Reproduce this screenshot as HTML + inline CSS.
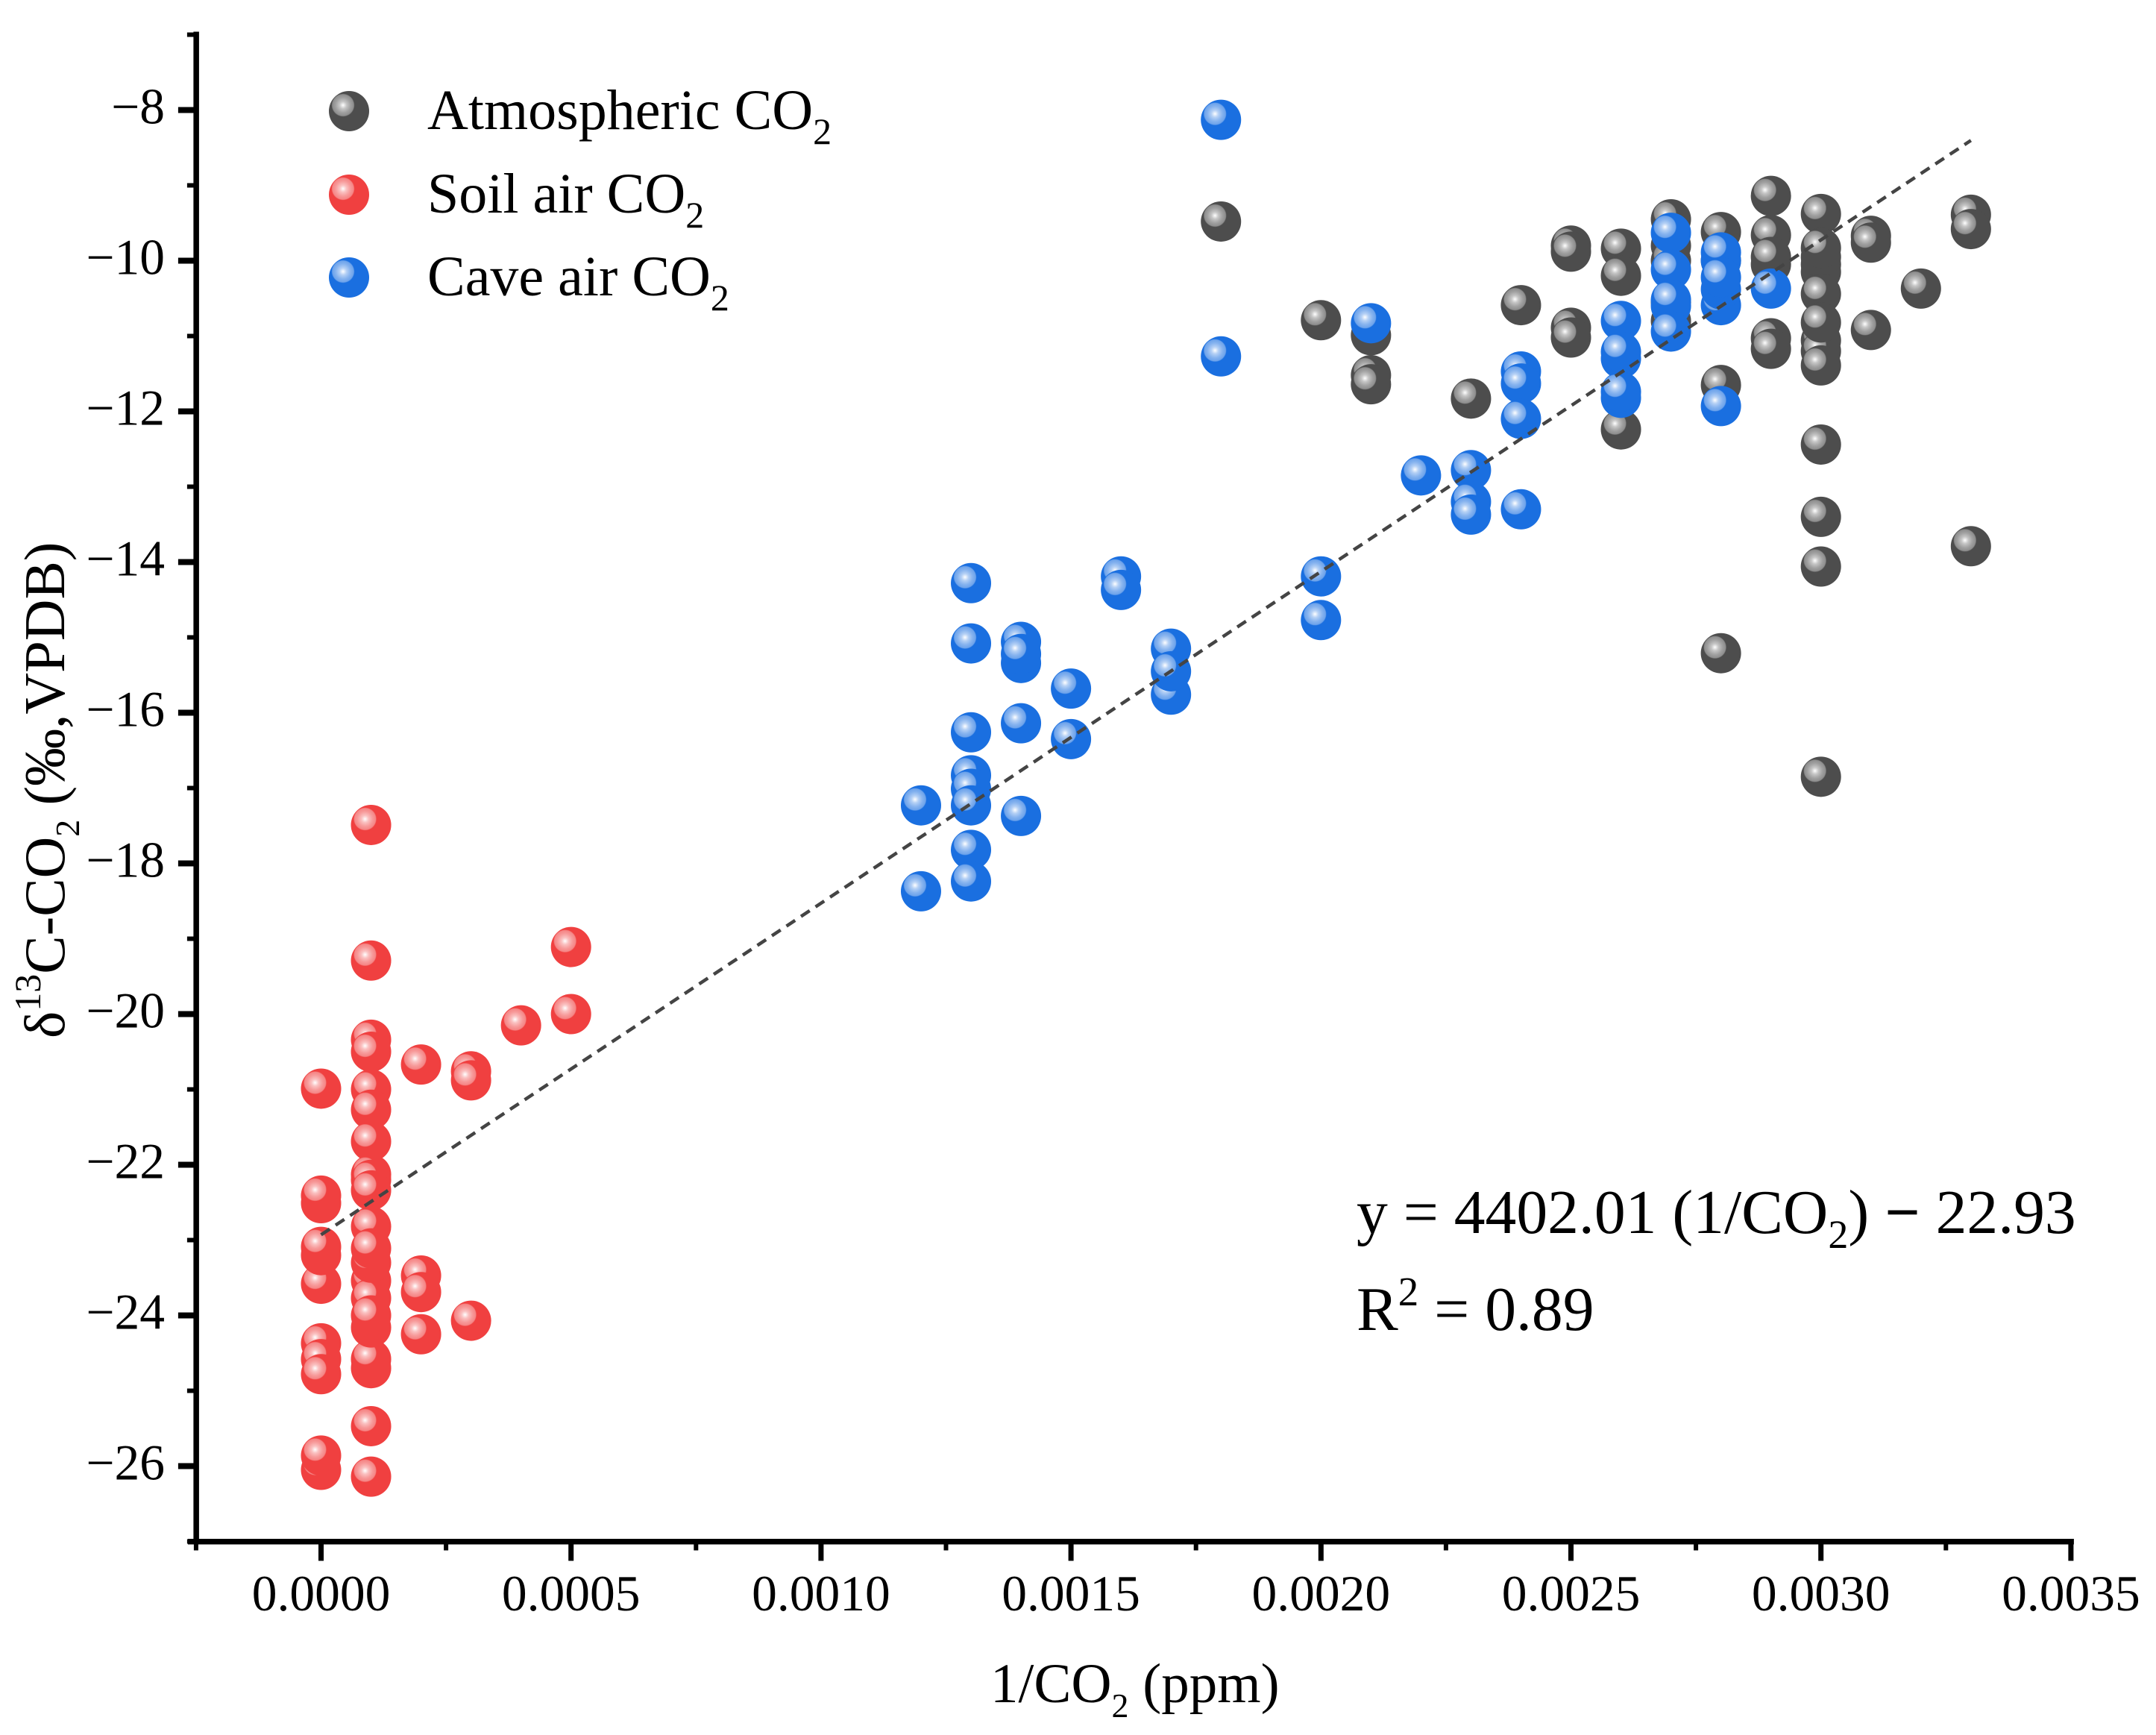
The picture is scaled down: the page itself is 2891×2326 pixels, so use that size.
<!DOCTYPE html>
<html lang="en">
<head>
<meta charset="utf-8">
<title>δ13C-CO2 versus 1/CO2</title>
<style>
html,body{margin:0;padding:0;background:#fff;}
svg{display:block;}
text{font-family:"Liberation Serif","Noto Serif CJK SC",serif;fill:#000;}
</style>
</head>
<body>
<svg id="chart" xmlns="http://www.w3.org/2000/svg" width="2891" height="2326" viewBox="0 0 2891 2326">
  <defs>
    <radialGradient id="shine" cx="50%" cy="50%" r="50%">
      <stop offset="0" stop-color="#fff" stop-opacity="1"/>
      <stop offset="0.3" stop-color="#fff" stop-opacity="0.68"/>
      <stop offset="0.65" stop-color="#fff" stop-opacity="0.47"/>
      <stop offset="0.92" stop-color="#fff" stop-opacity="0.36"/>
      <stop offset="1" stop-color="#fff" stop-opacity="0"/>
    </radialGradient>
  </defs>
  <rect x="0" y="0" width="2891" height="2326" fill="#fff"/>
  <g id="axes"></g>
  <g id="atmospheric"></g>
  <g id="soil"></g>
  <g id="cave"></g>
  <line id="fit" stroke="#444" stroke-width="4.5" stroke-dasharray="14 9.4" fill="none"/>
  <g id="legend">
    <text x="573" y="173" font-size="76">Atmospheric CO<tspan font-size="50" dy="20">2</tspan></text>
    <text x="573" y="285" font-size="76">Soil air CO<tspan font-size="50" dy="20">2</tspan></text>
    <text x="573" y="396" font-size="76">Cave air CO<tspan font-size="50" dy="20">2</tspan></text>
  </g>
  <text x="1819" y="1653" font-size="83.6">y = 4402.01 (1/CO<tspan font-size="54" dy="20">2</tspan><tspan dy="-20">) </tspan><tspan font-weight="bold">−</tspan> 22.93</text>
  <text x="1819" y="1783" font-size="83.6">R<tspan font-size="55" dy="-33">2</tspan><tspan dy="33"> = 0.89</tspan></text>
  <text x="1328" y="2282" font-size="75">1/CO<tspan font-size="46" dy="20">2</tspan><tspan dy="-20"> (ppm)</tspan></text>
  <text transform="translate(86 1392) rotate(-90)" x="0" y="0" font-size="77">δ<tspan font-size="50" dy="-32">13</tspan><tspan dy="32">C-CO</tspan><tspan font-size="46" dy="20">2</tspan><tspan dy="-20"> (‰,VPDB)</tspan></text>
</svg>
<script>
// Axis labels and ticks
const xTickValues = [0, 0.0005, 0.001, 0.0015, 0.002, 0.0025, 0.003, 0.0035];
const xTickLabels = ["0.0000", "0.0005", "0.0010", "0.0015", "0.0020", "0.0025", "0.0030", "0.0035"];
const xMinorTickValues = [-0.00025, 0.00025, 0.00075, 0.00125, 0.00175, 0.00225, 0.00275, 0.00325];
const yTickValues = [-8, -10, -12, -14, -16, -18, -20, -22, -24, -26];
const yTickLabels = ["−8", "−10", "−12", "−14", "−16", "−18", "−20", "−22", "−24", "−26"];
const yMinorTickValues = [-7, -9, -11, -13, -15, -17, -19, -21, -23, -25, -27];

// Atmospheric CO2 series
const atmosphericX = [0.0018, 0.0020,
  0.0021, 0.0021, 0.0021,
  0.0023, 0.0024,
  0.0025, 0.0025, 0.0025, 0.0025,
  0.0026, 0.0026, 0.0026,
  0.0027, 0.0027, 0.0027, 0.0027, 0.0027,
  0.0028, 0.0028, 0.0028, 0.0028,
  0.0029, 0.0029, 0.0029, 0.0029, 0.0029, 0.0029,
  0.0030, 0.0030, 0.0030, 0.0030, 0.0030, 0.0030, 0.0030, 0.0030, 0.0030, 0.0030, 0.0030, 0.0030, 0.0030, 0.0030,
  0.0031, 0.0031, 0.0031,
  0.0032,
  0.0033, 0.0033, 0.0033];
const atmosphericY = [-9.48, -10.79,
  -10.99, -11.52, -11.64,
  -11.83, -10.59,
  -9.80, -9.88, -10.89, -11.02,
  -9.84, -10.20, -12.24,
  -9.45, -9.80, -10.00, -10.55, -10.80,
  -9.62, -10.00, -11.65, -15.21,
  -9.14, -9.66, -10.05, -9.95, -11.03, -11.17,
  -9.38, -10.15, -10.05, -9.95, -9.83, -10.44, -11.06, -11.20, -10.82, -11.39, -12.44, -13.40, -14.06, -16.85,
  -9.67, -9.76, -10.92,
  -10.37,
  -9.39, -9.58, -13.79];

// Soil air CO2 series
const soilX = [0, 0, 0, 0, 0, 0, 0, 0, 0, 0, 0,
  0.0001, 0.0001, 0.0001, 0.0001, 0.0001, 0.0001, 0.0001, 0.0001, 0.0001, 0.0001,
  0.0001, 0.0001, 0.0001, 0.0001, 0.0001, 0.0001, 0.0001, 0.0001, 0.0001, 0.0001, 0.0001,
  0.0002, 0.0002, 0.0002, 0.0002,
  0.0003, 0.0003, 0.0003,
  0.0004,
  0.0005, 0.0005];
const soilY = [-20.99, -22.51, -22.41, -23.58, -23.20, -23.09, -24.37, -24.58, -24.78, -26.05, -25.86,
  -17.49, -19.29, -20.34, -20.50, -21.00, -21.27, -21.69, -22.13, -22.20, -22.34,
  -25.47, -26.14, -24.70, -24.58, -24.16, -23.54, -23.77, -24.00, -23.30, -22.82, -23.11,
  -20.67, -23.47, -23.69, -24.25,
  -20.76, -20.88, -24.07,
  -20.15,
  -19.11, -20.00];

// Cave air CO2 series
const caveX = [0.0012, 0.0012,
  0.0013, 0.0013, 0.0013, 0.0013, 0.0013, 0.0013, 0.0013, 0.0013,
  0.0014, 0.0014, 0.0014, 0.0014, 0.0014,
  0.0015, 0.0015,
  0.0016, 0.0016,
  0.0017, 0.0017, 0.0017,
  0.0018, 0.0018,
  0.0020, 0.0020,
  0.0021, 0.0022,
  0.0023, 0.0023, 0.0023,
  0.0024, 0.0024, 0.0024, 0.0024,
  0.0026, 0.0026, 0.0026, 0.0026, 0.0026,
  0.0027, 0.0027, 0.0027, 0.0027, 0.0027,
  0.0028, 0.0028, 0.0028, 0.0028, 0.0028, 0.0028,
  0.0029];
const caveY = [-17.23, -18.37,
  -14.28, -15.08, -16.26, -16.83, -17.01, -17.23, -17.82, -18.24,
  -15.06, -15.34, -15.22, -16.14, -17.37,
  -15.68, -16.35,
  -14.19, -14.37,
  -15.15, -15.76, -15.45,
  -8.13, -11.27,
  -14.19, -14.77,
  -10.83, -12.85,
  -12.78, -13.20, -13.37,
  -11.47, -11.63, -12.10, -13.30,
  -10.80, -11.30, -11.21, -11.82, -11.74,
  -9.63, -10.12, -10.60, -10.52, -10.94,
  -10.59, -10.38, -10.00, -9.89, -10.22, -11.93,
  -10.37];

// Regression
const fitSlope = 4402.01;
const fitIntercept = -22.93;
const fitDomain = [0, 0.0033];

// Axis functions
const xAxis = { domainMin: 0, pixelAtMin: 430.5, pixelsPerUnit: 670400 };
const yAxis = { domainRef: -8, pixelAtRef: 147.5, pixelsPerUnit: 101 };
function xScale(v) { return xAxis.pixelAtMin + (v - xAxis.domainMin) * xAxis.pixelsPerUnit; }
function yScale(v) { return yAxis.pixelAtRef + (yAxis.domainRef - v) * yAxis.pixelsPerUnit; }

const NS = 'http://www.w3.org/2000/svg';
const MARKER_RADIUS = 27;
const HIGHLIGHT_RADIUS = 15.5;
const HIGHLIGHT_OFFSET = 8;

function drawMarker(parent, cx, cy, color, name) {
  const g = document.createElementNS(NS, 'g');
  
  
  const base = document.createElementNS(NS, 'circle');
  base.setAttribute('cx', cx);
  base.setAttribute('cy', cy);
  base.setAttribute('r', MARKER_RADIUS);
  base.setAttribute('fill', color);
  g.appendChild(base);
  const shine = document.createElementNS(NS, 'circle');
  shine.setAttribute('cx', cx - HIGHLIGHT_OFFSET);
  shine.setAttribute('cy', cy - HIGHLIGHT_OFFSET);
  shine.setAttribute('r', HIGHLIGHT_RADIUS);
  shine.setAttribute('fill', 'url(#shine)');
  g.appendChild(shine);
  parent.appendChild(g);
}

function drawSeries(groupId, xs, ys, color, name) {
  const group = document.getElementById(groupId);
  xs.forEach(function (x, i) {
    drawMarker(group, xScale(x), yScale(ys[i]), color, name);
  });
}

function addRect(parent, x, y, w, h, name) {
  const r = document.createElementNS(NS, 'rect');
  r.setAttribute('x', x);
  r.setAttribute('y', y);
  r.setAttribute('width', w);
  r.setAttribute('height', h);
  r.setAttribute('fill', '#000');
  
  
  parent.appendChild(r);
}

function addLabel(parent, x, y, anchor, str, name) {
  const t = document.createElementNS(NS, 'text');
  t.setAttribute('x', x);
  t.setAttribute('y', y);
  t.setAttribute('text-anchor', anchor);
  t.setAttribute('font-size', '67.5');
  
  
  t.textContent = str;
  parent.appendChild(t);
}

const axes = document.getElementById('axes');
const xAxisPixel = yScale(-27);
const yAxisPixel = xScale(-0.00025);

// spines
addRect(axes, yAxisPixel - 3.5, yScale(-7) - 4, 7.5, xAxisPixel - yScale(-7) + 4, 'y-axis-line');
addRect(axes, yAxisPixel - 11, xAxisPixel - 3.5, xScale(0.0035) + 4 - yAxisPixel + 11, 7.5, 'x-axis-line');

// x ticks
xTickValues.forEach(function (v, i) {
  addRect(axes, xScale(v) - 3.5, xAxisPixel, 7, 26, 'x-major-tick');
  addLabel(axes, xScale(v), 2159, 'middle', xTickLabels[i], 'x-tick-label');
});
xMinorTickValues.forEach(function (v) {
  addRect(axes, xScale(v) - 3, xAxisPixel, 6, 12, 'x-minor-tick');
});

// y ticks
yTickValues.forEach(function (v, i) {
  addRect(axes, yAxisPixel - 24, yScale(v) - 4, 24, 8, 'y-major-tick');
  addLabel(axes, 221, yScale(v) + 18, 'end', yTickLabels[i], 'y-tick-label');
});
yMinorTickValues.forEach(function (v) {
  addRect(axes, yAxisPixel - 12, yScale(v) - 3, 12, 6, 'y-minor-tick');
});

// series
drawSeries('atmospheric', atmosphericX, atmosphericY, '#4d4d4d', 'atmospheric-point');
drawSeries('soil', soilX, soilY, '#f04040', 'soil-point');
drawSeries('cave', caveX, caveY, '#1a6fe0', 'cave-point');

// trend line
const fit = document.getElementById('fit');
fit.setAttribute('x1', xScale(fitDomain[0]));
fit.setAttribute('y1', yScale(fitSlope * fitDomain[0] + fitIntercept));
fit.setAttribute('x2', xScale(fitDomain[1]));
fit.setAttribute('y2', yScale(fitSlope * fitDomain[1] + fitIntercept));

// legend markers
const legend = document.getElementById('legend');
drawMarker(legend, 468, 149, '#4d4d4d', 'legend-marker-atmospheric');
drawMarker(legend, 468, 261, '#f04040', 'legend-marker-soil');
drawMarker(legend, 468, 372, '#1a6fe0', 'legend-marker-cave');
</script>
</body>
</html>
